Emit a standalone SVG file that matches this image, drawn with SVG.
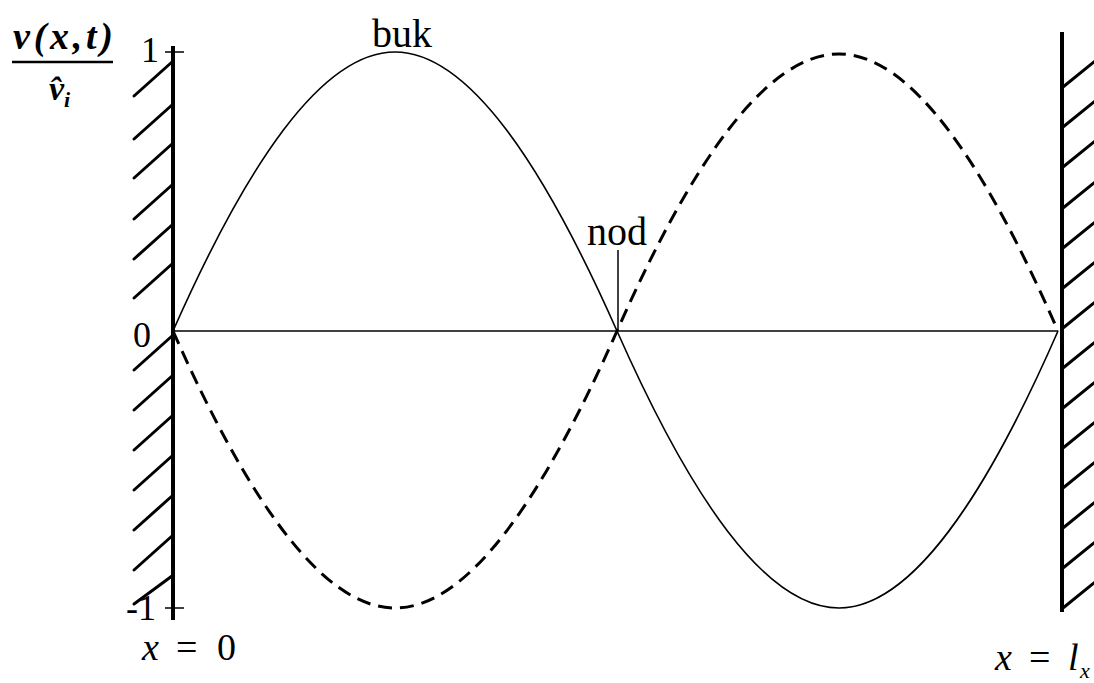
<svg xmlns="http://www.w3.org/2000/svg" width="1094" height="683" viewBox="0 0 1094 683">
<style>
.t{font-family:"Liberation Serif","Times New Roman",serif;fill:#000}
.wall{stroke:#000;stroke-width:4;fill:none}
.hatch{stroke:#000;stroke-width:3;stroke-linecap:round;fill:none}
.solid{stroke:#000;stroke-width:1.6;fill:none}
.dash{stroke:#000;stroke-width:3;fill:none;stroke-dasharray:14 8}
.axis{stroke:#000;stroke-width:1.5;fill:none}
</style>
<rect width="1094" height="683" fill="#fff"/>
<g id="left-wall">
<line class="wall" x1="173" y1="46" x2="173" y2="620"/>
<line class="axis" x1="165" y1="52" x2="184" y2="52" stroke-width="2.5"/>
<line class="axis" x1="165" y1="608" x2="184" y2="608" stroke-width="2.5"/>
<g class="hatch">
<line x1="172" y1="62" x2="134" y2="96"/>
<line x1="172" y1="105" x2="134" y2="139"/>
<line x1="172" y1="144" x2="134" y2="178"/>
<line x1="172" y1="185" x2="134" y2="219"/>
<line x1="172" y1="225" x2="134" y2="259"/>
<line x1="172" y1="264" x2="134" y2="298"/>
<line x1="172" y1="336" x2="134" y2="370"/>
<line x1="172" y1="376" x2="134" y2="410"/>
<line x1="172" y1="416" x2="134" y2="450"/>
<line x1="172" y1="456" x2="134" y2="490"/>
<line x1="172" y1="496" x2="134" y2="530"/>
<line x1="172" y1="536" x2="134" y2="570"/>
<line x1="172" y1="576" x2="134" y2="604"/>
</g>
</g>
<g id="right-wall">
<line class="wall" x1="1062" y1="32" x2="1062" y2="612"/>
<g class="hatch">
<line x1="1063" y1="87" x2="1100" y2="57"/>
<line x1="1063" y1="127" x2="1100" y2="97"/>
<line x1="1063" y1="167" x2="1100" y2="137"/>
<line x1="1063" y1="208" x2="1100" y2="178"/>
<line x1="1063" y1="248" x2="1100" y2="218"/>
<line x1="1063" y1="288" x2="1100" y2="258"/>
<line x1="1063" y1="328" x2="1100" y2="298"/>
<line x1="1063" y1="368" x2="1100" y2="338"/>
<line x1="1063" y1="408" x2="1100" y2="378"/>
<line x1="1063" y1="448" x2="1100" y2="418"/>
<line x1="1063" y1="488" x2="1100" y2="458"/>
<line x1="1063" y1="528" x2="1100" y2="498"/>
<line x1="1063" y1="568" x2="1100" y2="538"/>
<line x1="1063" y1="608" x2="1100" y2="578"/>
</g>
</g>
<g id="curves">
<line class="axis" x1="173" y1="331" x2="1058" y2="331"/>
<path class="solid" d="M173,331 C246.5,165 321.5,52 395,52 C468.5,52 543.5,165 617,331 C690.5,497 765.5,608 839,608 C911.5,608 985.5,497 1058,331"/>
<path class="dash" d="M173,331 C246.5,497 321.5,608 395,608 C468.5,608 543.5,497 617,331 C690.5,165 765.5,54 839,54 C911.5,54 985.5,165 1058,331"/>
<line class="axis" x1="618" y1="250" x2="618" y2="331" stroke-width="1.2"/>
</g>
<g id="labels">
<text class="t" x="372" y="47" font-size="40">buk</text>
<text class="t" x="587" y="245" font-size="40">nod</text>
<text class="t" x="141" y="62" font-size="36">1</text>
<text class="t" x="133" y="347" font-size="36">0</text>
<text class="t" x="126" y="620" font-size="36">-1</text>
<text class="t" y="660" font-size="38"><tspan x="142" font-style="italic">x</tspan><tspan x="176">=</tspan><tspan x="217">0</tspan></text>
<text class="t" y="670" font-size="38"><tspan x="995" font-style="italic">x</tspan><tspan x="1029">=</tspan><tspan x="1068" font-style="italic">l</tspan><tspan x="1080" font-style="italic" font-size="22" dy="8">x</tspan></text>
<text class="t" x="13" y="49" font-size="38" font-weight="bold" font-style="italic" textLength="100" lengthAdjust="spacing">v(x,t)</text>
<line x1="12" y1="62" x2="113" y2="62" stroke="#000" stroke-width="2.5"/>
<text class="t" x="49" y="100" font-size="34" font-weight="bold" font-style="italic">v̂<tspan font-size="22" dy="7">i</tspan></text>
</g>
</svg>
